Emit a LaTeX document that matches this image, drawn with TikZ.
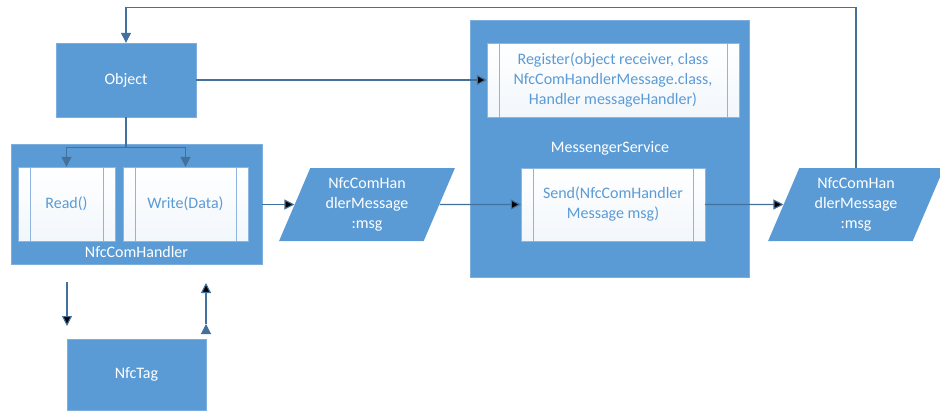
\documentclass[tikz,border=0pt]{standalone}
\usepackage{fontspec}
\setmainfont{Carlito}
\usetikzlibrary{shapes.geometric,arrows.meta}

\definecolor{boxblue}{HTML}{5B9BD5}
\definecolor{lineblue}{HTML}{41719C}
\definecolor{edgeblue}{HTML}{8FB4DF}

\begin{document}
\begin{tikzpicture}[x=1pt,y=-1pt,
  font=\fontsize{16}{20}\selectfont,
  blue box/.style={rectangle,fill=boxblue,draw=boxblue!80!white,text=white,inner sep=0pt},
  method box/.style={rectangle,draw=edgeblue,top color=white,bottom color=boxblue!8,
    text=boxblue,align=center,inner sep=0pt,
    path picture={
      \draw[edgeblue] ([xshift=12pt]path picture bounding box.north west) -- ([xshift=12pt]path picture bounding box.south west);
      \draw[edgeblue] ([xshift=-12pt]path picture bounding box.north east) -- ([xshift=-12pt]path picture bounding box.south east);}},
  msg node/.style={trapezium,trapezium left angle=67,trapezium right angle=113,
    trapezium stretches=true,minimum width=176pt,minimum height=73pt,
    fill=boxblue,text=white,align=center,inner sep=0pt},
  flow/.style={draw=lineblue,line width=1.1pt,-{Triangle[width=10pt,length=10pt]}}]

  \useasboundingbox (0,0) rectangle (940,410);

  % containers
  \node[blue box,minimum width=251pt,minimum height=120pt] (nch) at (136.5,204) {};
  \node[blue box,minimum width=279pt,minimum height=257pt] (msgsvc) at (609.5,148.5) {};
  \node[text=white] (nchlabel) at (136.5,252) {NfcComHandler};
  \node[text=white] (svclabel) at (610,148) {MessengerService};

  \node[blue box,minimum width=140pt,minimum height=74pt] (obj) at (126,80) {Object};
  \node[blue box,minimum width=139pt,minimum height=71pt] (tag) at (136.5,374.5) {NfcTag};

  \node[method box,minimum width=97pt,minimum height=74pt] (read) at (66.5,204) {Read()};
  \node[method box,minimum width=125pt,minimum height=74pt] (write) at (185.5,204) {Write(Data)};
  \node[method box,minimum width=252pt,minimum height=74pt] (reg) at (613,80)
    {Register(object receiver, class\\NfcComHandlerMessage.class,\\Handler messageHandler)};
  \node[method box,minimum width=184pt,minimum height=73pt] (send) at (613,204.5)
    {Send(NfcComHandler\\Message msg)};

  \node[msg node] (msg1) at (367,204.5) {NfcComHan\\dlerMessage\\:msg};
  \node[msg node] (msg2) at (856,204.5) {NfcComHan\\dlerMessage\\:msg};

  \coordinate (rdtop) at (67,282);
  \coordinate (rdbot) at (67,326);
  \coordinate (wrbot) at (206,324);
  \coordinate (wrtop) at (206,283);

  \draw[flow] (obj.south) -- ++(0,30) -| (read.north);
  \draw[flow] (obj.south) -- ++(0,30) -| (write.north);
  \draw[flow] (msg2.north) |- ([yshift=35pt]obj.north) -- (obj.north);

  \path[flow]
    (obj) edge (reg)
    (nch.east |- msg1.west) edge (msg1.west)
    (msg1.east) edge (send)
    (send) edge (msg2.west)
    (rdtop) edge (rdbot)
    (wrbot) edge (wrtop);

\end{tikzpicture}
\end{document}
